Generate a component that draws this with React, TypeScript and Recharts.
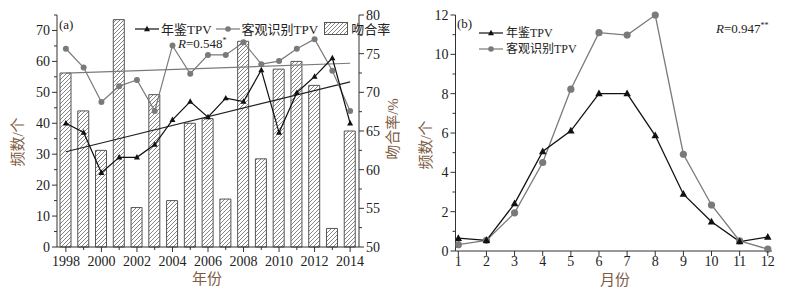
import React from 'react';
import {
  ComposedChart,
  LineChart,
  Bar,
  Line,
  XAxis,
  YAxis,
  ReferenceLine,
} from 'recharts';

// (a) yearly counts, 1998-2014
const years = ['1998', '1999', '2000', '2001', '2002', '2003', '2004', '2005', '2006', '2007', '2008', '2009', '2010', '2011', '2012', '2013', '2014'];
const yearbookTpv = [40, 37, 24, 29, 29, 33.1, 41.1, 47, 42, 48.1, 47, 57.2, 37, 49.9, 55.1, 61.1, 40];
const objectiveTpv = [64.1, 58, 46.9, 52, 54, 44, 65.1, 56, 62.1, 62.1, 66.2, 59.1, 60.1, 64.1, 67.2, 57, 44];
const matchRate = [72.5, 67.6, 62.5, 79.4, 55.1, 69.7, 56.0, 66.0, 66.6, 56.2, 76.6, 61.4, 73.0, 74.0, 70.9, 52.4, 65.0];

// linear trend end points (1998, 2014)
const trendYears = ['1998', '2014'];
const yearbookTrend = [30.8, 53.4];
const objectiveTrend = [56.2, 59.4];

const leftTicks = [0, 5, 10, 15, 20, 25, 30, 35, 40, 45, 50, 55, 60, 65, 70, 75];
const rateTicks = [50, 52.5, 55, 57.5, 60, 62.5, 65, 67.5, 70, 72.5, 75, 77.5, 80];

// (b) monthly counts
const months = [1, 2, 3, 4, 5, 6, 7, 8, 9, 10, 11, 12];
const monthYearbook = [0.65, 0.54, 2.41, 5.06, 6.11, 8, 8, 5.87, 2.89, 1.49, 0.48, 0.71];
const monthObjective = [0.32, 0.54, 1.94, 4.5, 8.23, 11.1, 10.98, 12, 4.92, 2.34, 0.51, 0.1];
const countTicks = [0, 1, 2, 3, 4, 5, 6, 7, 8, 9, 10, 11, 12];

const yearData = years.map((year, i) => ({
  year,
  yearbook: yearbookTpv[i],
  objective: objectiveTpv[i],
  rate: matchRate[i],
}));

const monthData = months.map((month, i) => ({
  month,
  yearbook: monthYearbook[i],
  objective: monthObjective[i],
}));

const SERIF = "'Liberation Serif', 'Times New Roman', 'Noto Sans CJK SC', serif";
const AXIS = '#333';
const TITLE = '#7d5c44';
const GREY = '#7a7a7a';

const makeTick = (side: 'left' | 'right' | 'bottom', isMajor: (v: any) => boolean, labelDy = 18) => (props: any) => {
  const { x, y, payload } = props;
  const v = payload.value;
  const major = isMajor(v);
  const len = major ? 5 : 3;
  const textProps = { fontFamily: SERIF, fontSize: 14, fill: '#222' };
  if (side === 'left') {
    return (
      <g>
        <line x1={x} x2={x - len} y1={y} y2={y} stroke={AXIS} />
        {major && <text x={x - 7} y={y} dy="0.35em" textAnchor="end" {...textProps}>{v}</text>}
      </g>
    );
  }
  if (side === 'right') {
    return (
      <g>
        <line x1={x} x2={x + len} y1={y} y2={y} stroke={AXIS} />
        {major && <text x={x + 7} y={y} dy="0.35em" textAnchor="start" {...textProps}>{v}</text>}
      </g>
    );
  }
  return (
    <g>
      <line x1={x} x2={x} y1={y} y2={y + len} stroke={AXIS} />
      {major && <text x={x} y={y + labelDy} textAnchor="middle" {...textProps}>{v}</text>}
    </g>
  );
};

const Triangle = ({ cx, cy, size = 6, color = '#111' }: any) => {
  if (cx == null || cy == null) return null;
  const h = size * 0.9;
  return <path d={`M${cx},${cy - h * 0.6} L${cx + size / 2},${cy + h * 0.4} L${cx - size / 2},${cy + h * 0.4} Z`} fill={color} />;
};

const Circle = ({ cx, cy, r = 3, color = GREY }: any) => {
  if (cx == null || cy == null) return null;
  return <circle cx={cx} cy={cy} r={r} fill={color} />;
};

const LineIcon = ({ color, marker }: { color: string; marker: 'tri' | 'dot' }) => (
  <svg width={24} height={10} style={{ verticalAlign: 'middle' }}>
    <line x1={0} x2={24} y1={5} y2={5} stroke={color} strokeWidth={1.2} />
    {marker === 'tri' ? <Triangle cx={12} cy={5} size={6} color={color} /> : <Circle cx={12} cy={5} r={2.8} color={color} />}
  </svg>
);

const legendText: React.CSSProperties = { fontFamily: SERIF, fontSize: 13, color: '#222', verticalAlign: 'middle' };

const LeftLegend = () => (
  <div style={{ position: 'absolute', left: 135, top: 19, display: 'flex', alignItems: 'center', whiteSpace: 'nowrap' }}>
    <LineIcon color="#111" marker="tri" />
    <span style={{ ...legendText, marginLeft: 2, marginRight: 4 }}>年鉴TPV</span>
    <LineIcon color={GREY} marker="dot" />
    <span style={{ ...legendText, marginLeft: 2, marginRight: 6 }}>客观识别TPV</span>
    <svg width={24} height={13} style={{ verticalAlign: 'middle' }}>
      <rect x={0.5} y={0.5} width={23} height={12} fill="url(#hatch)" stroke="#555" />
    </svg>
    <span style={{ ...legendText, marginLeft: 3 }}>吻合率</span>
  </div>
);

const RightLegend = () => (
  <div style={{ position: 'absolute', left: 479, top: 25, lineHeight: '14px' }}>
    <div style={{ whiteSpace: 'nowrap' }}>
      <LineIcon color="#111" marker="tri" />
      <span style={{ ...legendText, marginLeft: 3, fontSize: 12 }}>年鉴TPV</span>
    </div>
    <div style={{ whiteSpace: 'nowrap' }}>
      <LineIcon color={GREY} marker="dot" />
      <span style={{ ...legendText, marginLeft: 3, fontSize: 12 }}>客观识别TPV</span>
    </div>
  </div>
);

const overlay = (left: number, top: number, extra: React.CSSProperties = {}): React.CSSProperties => ({
  position: 'absolute',
  left,
  top,
  fontFamily: SERIF,
  color: '#222',
  whiteSpace: 'nowrap',
  lineHeight: 1,
  ...extra,
});

const vTitle = (cx: number, cy: number): React.CSSProperties =>
  overlay(cx, cy, { fontSize: 15, color: TITLE, transform: 'translate(-50%, -50%) rotate(-90deg)' });

const star: React.CSSProperties = { fontSize: 8, position: 'relative', top: -5 };

export default function App() {
  return (
    <div style={{ position: 'absolute', left: 0, top: 0, width: 786, height: 289, background: '#fff' }}>
      <svg width={0} height={0} style={{ position: 'absolute' }}>
        <defs>
          <pattern id="hatch" patternUnits="userSpaceOnUse" width={4} height={4}>
            <rect width={4} height={4} fill="#fff" />
            <path d="M-1,1 l2,-2 M0,4 l4,-4 M3,5 l2,-2" stroke="#666" strokeWidth={0.8} />
          </pattern>
        </defs>
      </svg>

      {/* (a) yearly */}
      <div style={{ position: 'absolute', left: 0, top: 0 }}>
        <ComposedChart width={400} height={289} data={yearData} margin={{ top: 15, right: 1, bottom: 12, left: 17 }}>
          <XAxis
            dataKey="year"
            height={30}
            interval={0}
            stroke={AXIS}
            tickSize={0}
            tickMargin={0}
            tickLine={false}
            tick={makeTick('bottom', (v) => Number(v) % 2 === 0, 19)}
          />
          <XAxis xAxisId="top" dataKey="year" orientation="top" height={0} tick={false} tickLine={false} stroke={AXIS} />
          <YAxis
            yAxisId="left"
            width={40}
            domain={[0, 75]}
            ticks={leftTicks}
            interval={0}
            stroke={AXIS}
            tickSize={0}
            tickMargin={0}
            tickLine={false}
            tick={makeTick('left', (v) => v % 10 === 0)}
          />
          <YAxis
            yAxisId="right"
            orientation="right"
            width={40}
            domain={[50, 80]}
            ticks={rateTicks}
            interval={0}
            stroke={AXIS}
            tickSize={0}
            tickMargin={0}
            tickLine={false}
            tick={makeTick('right', (v) => v % 5 === 0)}
          />
          <Bar yAxisId="right" dataKey="rate" barSize={11} fill="url(#hatch)" stroke="#555" strokeWidth={1} isAnimationActive={false} />
          <ReferenceLine
            yAxisId="left"
            segment={[{ x: trendYears[0], y: objectiveTrend[0] }, { x: trendYears[1], y: objectiveTrend[1] }]}
            stroke={GREY}
            strokeWidth={1.2}
          />
          <ReferenceLine
            yAxisId="left"
            segment={[{ x: trendYears[0], y: yearbookTrend[0] }, { x: trendYears[1], y: yearbookTrend[1] }]}
            stroke="#222"
            strokeWidth={1.2}
          />
          <Line
            yAxisId="left"
            dataKey="objective"
            stroke={GREY}
            strokeWidth={1.2}
            dot={(p: any) => <Circle key={`ao-${p.index}`} cx={p.cx} cy={p.cy} r={3} />}
            activeDot={false}
            isAnimationActive={false}
          />
          <Line
            yAxisId="left"
            dataKey="yearbook"
            stroke="#111"
            strokeWidth={1.2}
            dot={(p: any) => <Triangle key={`ay-${p.index}`} cx={p.cx} cy={p.cy} size={6} />}
            activeDot={false}
            isAnimationActive={false}
          />
        </ComposedChart>
      </div>

      {/* (b) monthly */}
      <div style={{ position: 'absolute', left: 400, top: 0 }}>
        <LineChart width={386} height={289} data={monthData} margin={{ top: 15, right: 14, bottom: 8, left: 15.5 }}>
          <XAxis
            dataKey="month"
            type="number"
            domain={[0.9, 12.15]}
            ticks={months}
            interval={0}
            allowDataOverflow
            height={30}
            stroke={AXIS}
            tickSize={0}
            tickMargin={0}
            tickLine={false}
            tick={makeTick('bottom', () => true, 15)}
          />
          <XAxis xAxisId="top" dataKey="month" type="number" domain={[0.9, 12.15]} orientation="top" height={0} tick={false} tickLine={false} stroke={AXIS} />
          <YAxis
            width={40}
            domain={[0, 12]}
            ticks={countTicks}
            interval={0}
            stroke={AXIS}
            tickSize={0}
            tickMargin={0}
            tickLine={false}
            tick={makeTick('left', (v) => v % 2 === 0)}
          />
          <YAxis yAxisId="r" orientation="right" width={0} domain={[0, 12]} tick={false} tickLine={false} stroke={AXIS} />
          <Line
            dataKey="objective"
            stroke={GREY}
            strokeWidth={1.3}
            dot={(p: any) => <Circle key={`bo-${p.index}`} cx={p.cx} cy={p.cy} r={3.6} />}
            activeDot={false}
            isAnimationActive={false}
          />
          <Line
            dataKey="yearbook"
            stroke="#111"
            strokeWidth={1.3}
            dot={(p: any) => <Triangle key={`by-${p.index}`} cx={p.cx} cy={p.cy} size={7.5} />}
            activeDot={false}
            isAnimationActive={false}
          />
        </LineChart>
      </div>

      <LeftLegend />
      <RightLegend />

      {/* annotations and axis titles */}
      <div style={overlay(59, 18, { fontSize: 13 })}>(a)</div>
      <div style={overlay(178, 37, { fontSize: 13 })}>
        <i>R</i>=0.548<span style={star}>*</span>
      </div>
      <div style={overlay(457, 17, { fontSize: 13 })}>(b)</div>
      <div style={overlay(716, 22, { fontSize: 13 })}>
        <i>R</i>=0.947<span style={star}>**</span>
      </div>
      <div style={vTitle(18, 142)}>频数/个</div>
      <div style={vTitle(393, 129)}>吻合率/%</div>
      <div style={vTitle(426, 145)}>频数/个</div>
      <div style={overlay(207, 279, { fontSize: 15, color: TITLE, transform: 'translate(-50%, -50%)' })}>年份</div>
      <div style={overlay(615, 280, { fontSize: 15, color: TITLE, transform: 'translate(-50%, -50%)' })}>月份</div>
    </div>
  );
}
